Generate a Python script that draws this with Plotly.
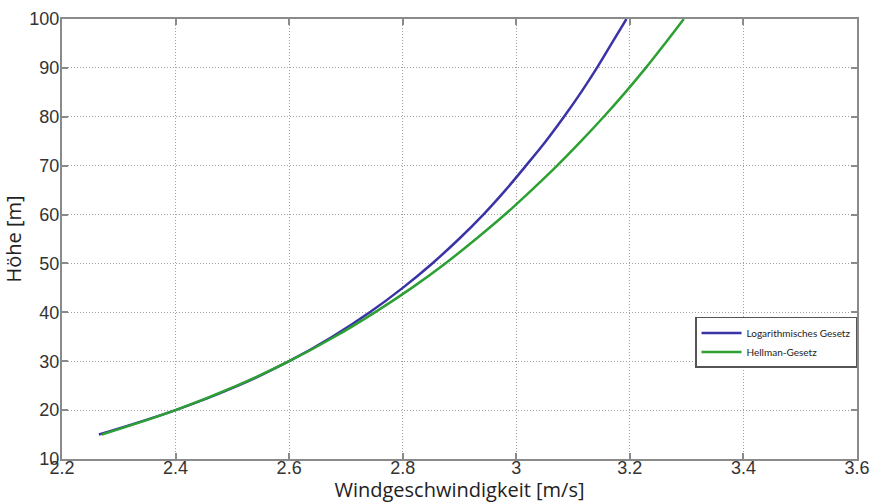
import plotly.graph_objects as go

heights = [15, 20, 25, 30, 35, 40, 45, 50, 55, 60, 65, 70, 75, 80, 85, 90, 95, 100]
v_log = [2.265, 2.400, 2.510, 2.600, 2.676, 2.742, 2.800, 2.852, 2.899, 2.942,
         2.981, 3.017, 3.052, 3.084, 3.114, 3.142, 3.168, 3.194]
v_hellman = [2.270, 2.400, 2.508, 2.600, 2.680, 2.751, 2.816, 2.875, 2.929, 2.980,
             3.027, 3.072, 3.114, 3.154, 3.192, 3.228, 3.262, 3.295]

x_ticks = [2.2, 2.4, 2.6, 2.8, 3.0, 3.2, 3.4, 3.6]
x_ticklabels = ["2.2", "2.4", "2.6", "2.8", "3", "3.2", "3.4", "3.6"]
y_ticks = [10, 20, 30, 40, 50, 60, 70, 80, 90, 100]

fig = go.Figure()
fig.add_trace(go.Scatter(x=v_log, y=heights, mode="lines", name="Logarithmisches Gesetz",
                         line=dict(color="#3a33a6", width=2.5, shape="spline")))
fig.add_trace(go.Scatter(x=v_hellman, y=heights, mode="lines", name="Hellman-Gesetz",
                         line=dict(color="#2ca033", width=2.5, shape="spline")))

axis_common = dict(
    showline=True, linecolor="#8a8a8a", linewidth=2, mirror="ticks",
    ticks="inside", ticklen=6, tickwidth=1.5, tickcolor="#8a8a8a",
    showgrid=True, gridcolor="#a0a0a0", gridwidth=1, griddash="1px,2px",
    zeroline=False, automargin=False,
    tickfont=dict(family="Liberation Sans, Arial", size=18, color="#333333"),
)

fig.update_xaxes(range=[2.2, 3.6], tickvals=x_ticks, ticktext=x_ticklabels,
                 ticklabelstandoff=-9,
                 title=dict(text="Windgeschwindigkeit [m/s]", standoff=0,
                            font=dict(family="Open Sans", size=20, color="#222222")),
                 **axis_common)
fig.update_yaxes(range=[10, 100], tickvals=y_ticks,
                 ticklabelstandoff=-3,
                 title=dict(text="Höhe [m]", standoff=2,
                            font=dict(family="Open Sans", size=20, color="#222222")),
                 **axis_common)

fig.update_layout(
    width=872, height=503,
    margin=dict(l=62, r=15, t=19, b=44),
    plot_bgcolor="white", paper_bgcolor="white",
    showlegend=True,
    legend=dict(x=1, y=0.323, xanchor="right", yanchor="top",
                bgcolor="white", bordercolor="#555555", borderwidth=1.5,
                font=dict(family="Lato", size=10, color="#222222"),
                itemwidth=40, tracegroupgap=2),
)

fig.write_html("out.html", config={"displayModeBar": False},
               post_script="document.body.style.margin='0';document.body.style.overflow='hidden';")
